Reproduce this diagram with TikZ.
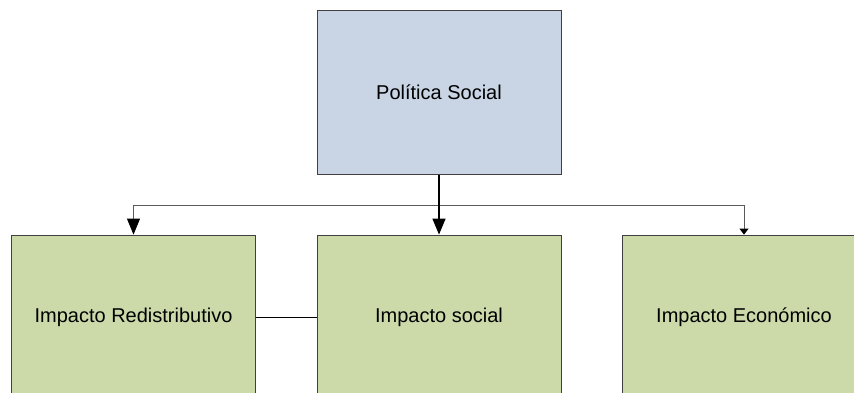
\documentclass[tikz,border=0pt]{standalone}
\usepackage{fontspec}
\setmainfont{Liberation Sans}
\usetikzlibrary{arrows.meta}
\definecolor{topblue}{RGB}{201,213,229}
\definecolor{boxgreen}{RGB}{204,218,170}
\definecolor{linegray}{RGB}{90,90,90}
\begin{document}
\begin{tikzpicture}[x=1pt,y=-1pt,
  box/.style={draw=black!75, line width=0.8pt, minimum width=244pt, minimum height=164pt,
    inner sep=0pt, font=\fontsize{20}{24}\selectfont},
  bigarrow/.style={-{Triangle[length=16pt,width=13pt,color=black]}},
  smallarrow/.style={-{Triangle[length=6pt,width=9pt,color=black]}},
  link/.style={draw=linegray, line width=0.9pt}]
\useasboundingbox (0,0) rectangle (854,393);
\clip (0,0) rectangle (854,393);
\node[box, fill=topblue] (top) at (439,92.5) {Política Social};
\node[box, fill=boxgreen] (left) at (133.5,317) {Impacto Redistributivo};
\node[box, fill=boxgreen] (mid) at (439,317) {Impacto social};
\node[box, fill=boxgreen] (right) at (744,317) {Impacto Económico};
\coordinate (j) at (439,205);
\draw[black, line width=1.4pt] (top.south) -- (j);
\draw[link, bigarrow] (j) -| (left.north);
\draw[link, smallarrow] (j) -| (right.north);
\draw[black, line width=1.4pt, bigarrow] (j) -- (mid.north);
\draw[black, line width=0.9pt] (left.east) -- (mid.west);
\end{tikzpicture}
\end{document}
